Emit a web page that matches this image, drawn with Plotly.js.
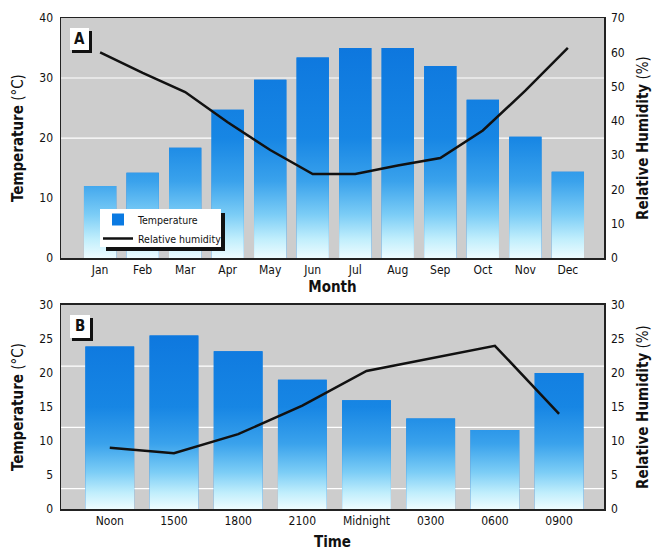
<!DOCTYPE html>
<html>
<head>
<meta charset="utf-8">
<script src="https://cdn.plot.ly/plotly-3.0.1.min.js"></script>
<style>html,body{margin:0;padding:0;background:#fff;}#chart{width:652px;height:551px;}</style>
</head>
<body>
<div id="chart"></div>
<script>
// ---- Data ----
var months = ["Jan","Feb","Mar","Apr","May","Jun","Jul","Aug","Sep","Oct","Nov","Dec"];
var monthTemp = [12, 14.2, 18.4, 24.7, 29.7, 33.4, 35, 35, 32, 26.4, 20.2, 14.4];
var monthHum = [60, 54, 48.4, 39.6, 31.5, 24.5, 24.5, 27, 29.2, 37.2, 48.8, 61.3];

var times = ["Noon","1500","1800","2100","Midnight","0300","0600","0900"];
var timeTemp = [23.9, 25.5, 23.2, 19, 16, 13.3, 11.6, 20];
var timeHum = [9, 8.2, 11, 15.2, 20.3, 22.2, 24, 14];

// ---- Helpers ----
var FONT = "'DejaVu Sans Condensed', 'Liberation Sans Narrow', 'Arial Narrow', sans-serif";
var BARW = 0.76;
function idx(arr){ return arr.map(function(_, i){ return i; }); }
function barPolys(vals){
  var x = [], y = [];
  vals.forEach(function(v, i){
    x.push(i - BARW/2, i - BARW/2, i + BARW/2, i + BARW/2, null);
    y.push(0, v, v, 0, null);
  });
  return {x: x, y: y};
}
var gradScale = [[0,'#eefcff'],[0.08,'#c0eefc'],[0.18,'#7ccdf6'],[0.32,'#3aa2ec'],[0.5,'#1786e4'],[1,'#0a72dc']];
var BLUE = '#0a7ae2';

var pA = barPolys(monthTemp), pB = barPolys(timeTemp);

var traces = [
  {type:'bar', x: idx(months), y: monthTemp, width: BARW, marker:{color: BLUE}, name:'Temperature',
   xaxis:'x', yaxis:'y', showlegend:true},
  {type:'scatter', x: pA.x, y: pA.y, mode:'lines', line:{width:0}, fill:'toself',
   fillgradient:{type:'vertical', colorscale: gradScale, start:0, stop:40},
   xaxis:'x', yaxis:'y', showlegend:false, hoverinfo:'skip'},
  {type:'scatter', x: idx(months), y: monthHum, mode:'lines', line:{color:'#111', width:2.5},
   name:'Relative humidity', xaxis:'x', yaxis:'y2', showlegend:true},

  {type:'bar', x: idx(times), y: timeTemp, width: BARW, marker:{color: BLUE}, name:'Temperature',
   xaxis:'x2', yaxis:'y3', showlegend:false},
  {type:'scatter', x: pB.x, y: pB.y, mode:'lines', line:{width:0}, fill:'toself',
   fillgradient:{type:'vertical', colorscale: gradScale, start:0, stop:30},
   xaxis:'x2', yaxis:'y3', showlegend:false, hoverinfo:'skip'},
  {type:'scatter', x: idx(times), y: timeHum, mode:'lines', line:{color:'#111', width:2.5},
   name:'Relative humidity', xaxis:'x2', yaxis:'y4', showlegend:false}
];

// pixel -> paper helpers (plot area 61..604 x, 18..509 y)
function PX(p){ return (p - 61) / 543; }
function PY(p){ return (509 - p) / 491; }
function prect(x0, y0, x1, y1, color){
  return {type:'rect', xref:'paper', yref:'paper', x0: PX(x0), x1: PX(x1), y0: PY(y1), y1: PY(y0),
    fillcolor: color, line:{width:0}, layer:'above'};
}
function gline(yref, v){
  return {type:'line', xref: yref === 'y' ? 'x domain' : 'x2 domain', yref: yref, x0:0, x1:1, y0:v, y1:v,
    line:{color:'#ffffff', width:1.2}, layer:'below'};
}

var axFrame = {showline:true, mirror:true, linecolor:'#222', linewidth:1.5, ticks:'', zeroline:false,
  tickfont:{size:12, color:'#111', family: FONT}};
function ext(o){ var r = {}; for (var k in axFrame) r[k] = axFrame[k]; for (var j in o) r[j] = o[j]; return r; }

var titleFont = {size:15, color:'#111', family: FONT};

var layout = {
  width:652, height:551,
  margin:{l:61, r:48, t:18, b:42},
  paper_bgcolor:'#ffffff', plot_bgcolor:'#cdcdcd',
  font:{family: FONT, color:'#111'},
  xaxis: ext({domain:[0,1], anchor:'y', range:[-0.92, 11.85], tickvals: idx(months), ticktext: months,
    showgrid:false, title:{text:'<b>Month</b>', font: titleFont, standoff: 5}}),
  yaxis: ext({domain:[0.511,1], anchor:'x', range:[0,40], dtick:10, showgrid:false, ticklabelstandoff:4,
    title:{text:'<b>Temperature</b> (°C)', font: titleFont, standoff: 12}}),
  yaxis2: ext({overlaying:'y', anchor:'x', side:'right', range:[0,70], dtick:10, showgrid:false, ticklabelstandoff:3,
    title:{text:'<b>Relative Humidity</b> (%)', font: titleFont, standoff: 14}}),
  xaxis2: ext({domain:[0,1], anchor:'y3', range:[-0.76, 7.7], tickvals: idx(times), ticktext: times,
    showgrid:false, title:{text:'<b>Time</b>', font: titleFont, standoff: 15}}),
  yaxis3: ext({domain:[0,0.4155], anchor:'x2', range:[0,30], dtick:5, showgrid:false, ticklabelstandoff:4,
    title:{text:'<b>Temperature</b> (°C)', font: titleFont, standoff: 12}}),
  yaxis4: ext({overlaying:'y3', anchor:'x2', side:'right', range:[0,30], dtick:5, showgrid:false, ticklabelstandoff:3,
    title:{text:'<b>Relative Humidity</b> (%)', font: titleFont, standoff: 14}}),
  legend:{x: PX(98), y: PY(205), xanchor:'left', yanchor:'top', bgcolor:'rgba(0,0,0,0)', borderwidth:0,
    font:{size:10.5, color:'#111', family: FONT}, tracegroupgap:0, itemwidth:30},
  shapes: [
    gline('y', 20), gline('y', 30),
    gline('y3', 3), gline('y3', 12), gline('y3', 21),
    // legend box + shadow
    prect(106, 246, 225, 251, '#111'),
    prect(221, 213, 225, 251, '#111'),
    prect(100, 209, 221, 247, '#ffffff'),
    // A label box + shadow
    prect(70, 28, 89, 50, '#ffffff'),
    prect(89, 31, 92, 53, '#111'),
    prect(72, 50, 92, 53, '#111'),
    // B label box + shadow
    prect(70, 315, 90, 338, '#ffffff'),
    prect(90, 318, 93, 341, '#111'),
    prect(72, 338, 93, 341, '#111')
  ],
  annotations: [
    {xref:'paper', yref:'paper', x: PX(79.5), y: PY(39.5), xanchor:'center', yanchor:'middle', text:'<b>A</b>', showarrow:false,
     font:{size:15, color:'#111', family: FONT}},
    {xref:'paper', yref:'paper', x: PX(80), y: PY(326.5), xanchor:'center', yanchor:'middle', text:'<b>B</b>', showarrow:false,
     font:{size:15, color:'#111', family: FONT}}
  ]
};

Plotly.newPlot('chart', traces, layout, {displayModeBar:false, staticPlot:true});
</script>
</body>
</html>
